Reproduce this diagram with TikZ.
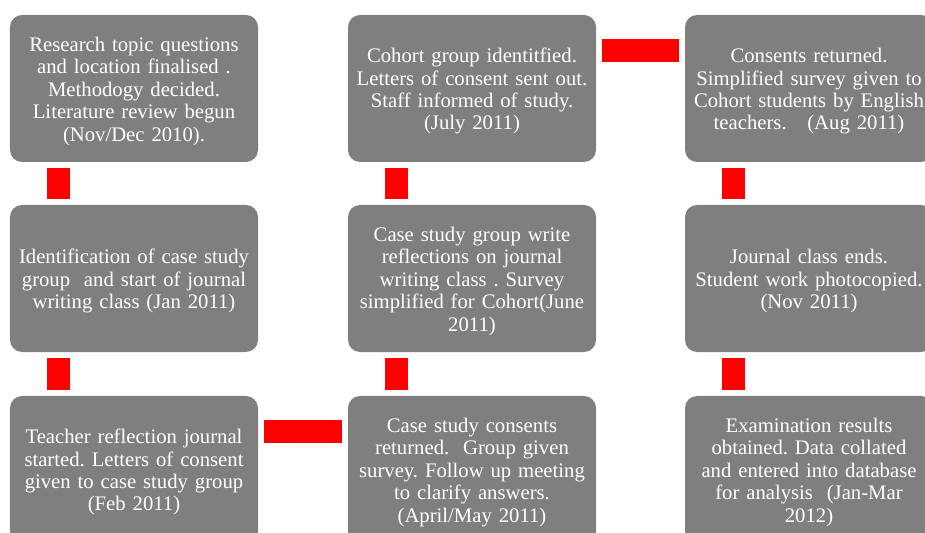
\documentclass[tikz,border=0pt]{standalone}
\usepackage{fontspec}
\setmainfont{Liberation Serif}
\definecolor{boxgray}{RGB}{127, 127, 127}
\definecolor{linkred}{RGB}{255, 0, 0}
\frenchspacing

\begin{document}
\begin{tikzpicture}[x=1bp, y=-1bp,
    stage/.style={fill=boxgray, rounded corners=12bp, minimum width=248bp, minimum height=147bp,
      text width=240bp, inner sep=4bp, align=center, text=white,
      font=\fontsize{20.7bp}{22.4bp}\selectfont, execute at begin node={\rule{0pt}{20bp}}},
    link/.style={draw=linkred, line width=23bp, shorten <=5.5bp, shorten >=5.5bp}]
      \useasboundingbox (0,0) rectangle (925,533);
      \clip (0,0) rectangle (925,533);

      % first column
      \node[stage] (topic) at (134,88.5) {Research topic questions\\and location finalised .\\Methodogy decided.\\Literature review begun\\(Nov/Dec 2010).};
      \node[stage] (caseid) at (134,278.5) {Identification of case study\\group~ and start of journal\\writing class (Jan 2011)};
      \node[stage] (teacher) at (134,469.5) {Teacher reflection journal\\started. Letters of consent\\given to case study group\\(Feb 2011)};

      % second column
      \node[stage] (cohort) at (472,88.5) {Cohort group identitfied.\\Letters of consent sent out.\\Staff informed of study.\\(July 2011)};
      \node[stage] (reflections) at (472,278.5) {Case study group write\\reflections on journal\\writing class . Survey\\simplified for Cohort(June\\2011)};
      \node[stage] (caseconsents) at (472,469.5) {Case study consents\\returned.~ Group given\\survey. Follow up meeting\\to clarify answers.\\(April/May 2011)};

      % third column
      \node[stage] (consents) at (809,88.5) {Consents returned.\\Simplified survey given to\\Cohort students by English\\teachers.~~ (Aug 2011)};
      \node[stage] (journalends) at (809,278.5) {Journal class ends.\\Student work photocopied.\\(Nov 2011)};
      \node[stage] (results) at (809,469.5) {Examination results\\obtained. Data collated\\and entered into database\\for analysis~ (Jan-Mar\\2012)};

      % red links
      \foreach \a/\b in {topic/caseid, caseid/teacher, reflections/caseconsents, cohort/reflections, consents/journalends, journalends/results} {
        \draw[link] ([xshift=48.5bp]\a.south west) -- ([xshift=48.5bp]\b.north west);
      }
      \draw[link] ([yshift=-35.5bp]teacher.north east) -- ([yshift=-35.5bp]caseconsents.north west);
      \draw[link] ([yshift=-35.5bp]cohort.north east) -- ([yshift=-35.5bp]consents.north west);
    \end{tikzpicture}
\end{document}
